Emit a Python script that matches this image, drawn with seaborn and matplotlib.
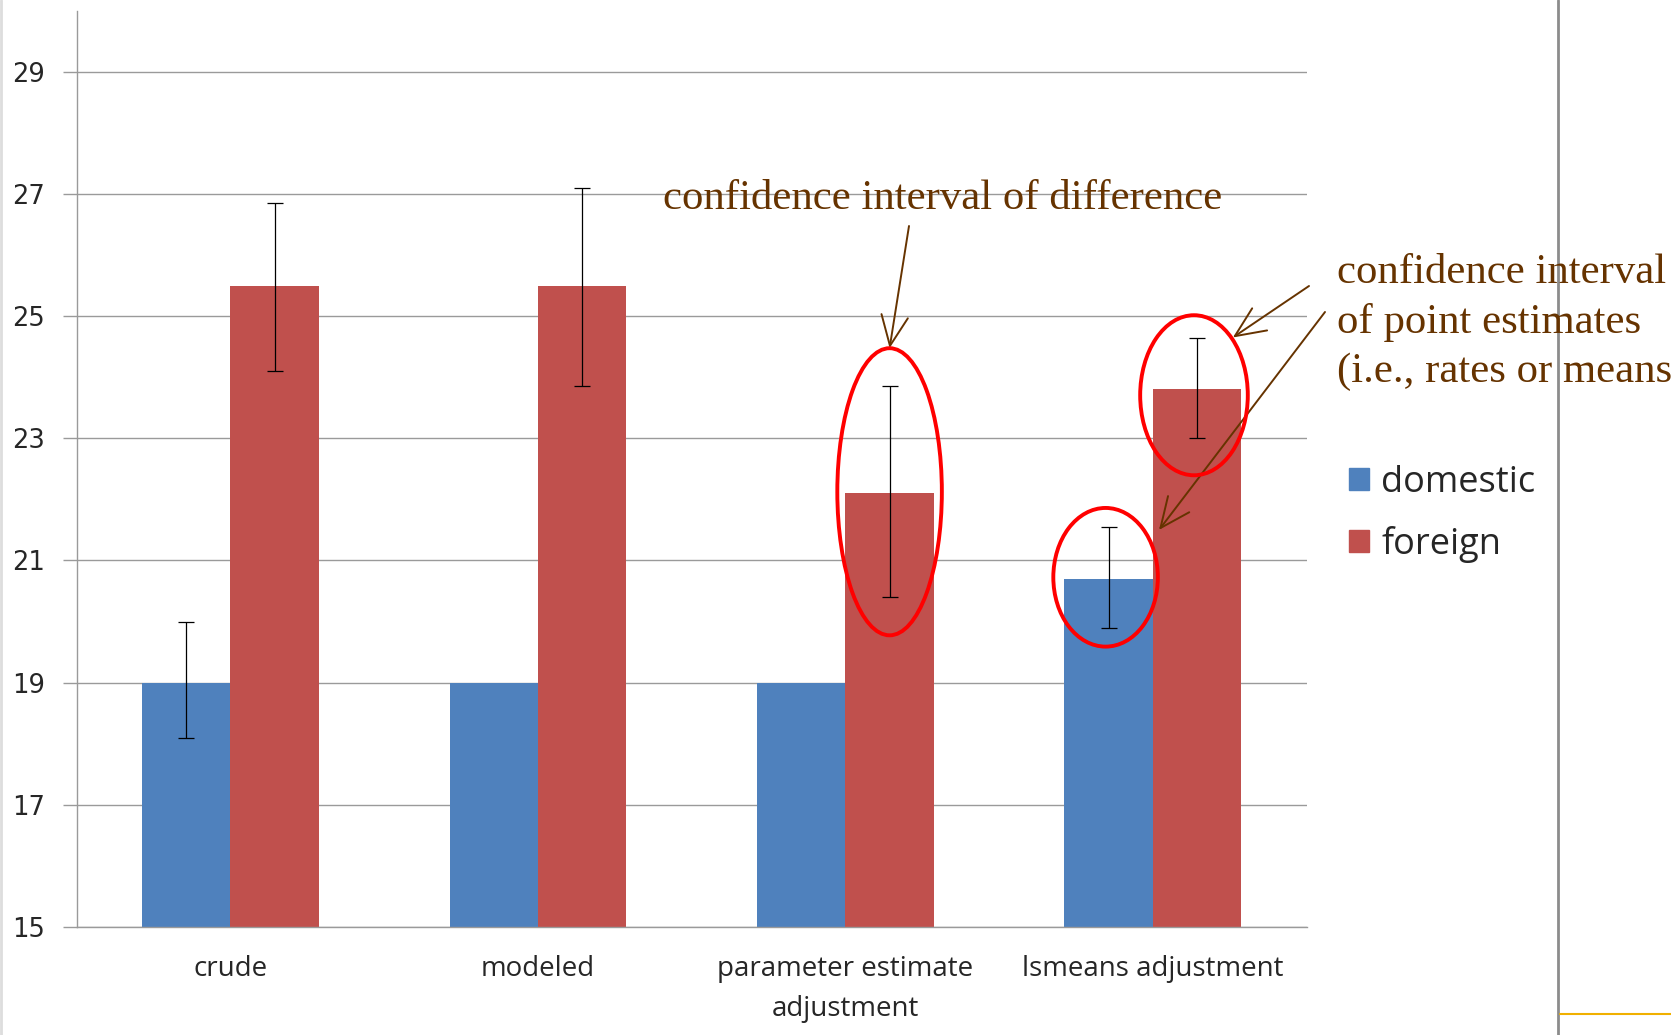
import numpy as np
import pandas as pd
import matplotlib
matplotlib.use("Agg")
import matplotlib.pyplot as plt
from matplotlib.patches import Ellipse
from matplotlib.lines import Line2D
import seaborn as sns

# ── data ────────────────────────────────────────────────
categories = ["crude", "modeled", "parameter estimate\nadjustment", "lsmeans adjustment"]
groups = ["domestic", "foreign"]
domestic = [19.0, 19.0, 19.0, 20.7]
foreign = [25.5, 25.5, 22.1, 23.8]
domestic_lo = [18.1, np.nan, np.nan, 19.9]
domestic_hi = [20.0, np.nan, np.nan, 21.55]
foreign_lo = [24.1, 23.85, 20.4, 23.0]
foreign_hi = [26.85, 27.1, 23.85, 24.65]
y_ticks = [15, 17, 19, 21, 23, 25, 27, 29]

BLUE = "#4F81BD"
RED = "#C0504D"
BROWN = "#663300"
GRID = "#9A9A9A"

df = pd.DataFrame({
    "category": categories * 2,
    "group": ["domestic"] * 4 + ["foreign"] * 4,
    "value": domestic + foreign,
    "lo": domestic_lo + foreign_lo,
    "hi": domestic_hi + foreign_hi,
})

sns.set_style("white")
plt.rcParams["font.family"] = ["Open Sans", "DejaVu Sans"]

W, H = 1671, 1035
fig = plt.figure(figsize=(W / 100, H / 100), dpi=100)
ax = fig.add_axes([76.7 / W, 1 - 927 / H, (1306.6 - 76.7) / W, (927 - 10.7) / H])

sns.barplot(data=df, x="category", y="value", hue="group", order=categories,
            hue_order=groups, palette=[BLUE, RED], width=0.575, dodge=True,
            errorbar=None, saturation=1, linewidth=0, ax=ax, zorder=2)

# error bars on top of the bars
w = 0.575 / 2
for i, g in enumerate(groups):
    sub = df[df["group"] == g].reset_index(drop=True)
    xs = np.arange(len(categories)) + (i - 0.5) * w
    mid = (sub["lo"] + sub["hi"]) / 2
    half = (sub["hi"] - sub["lo"]) / 2
    ax.errorbar(xs, mid, yerr=half, fmt="none", ecolor="black", elinewidth=0.9,
                capsize=6, capthick=0.9, zorder=3)

ax.set_ylim(15, 30)
ax.set_xlim(-0.5, len(categories) - 0.5)
ax.set_yticks(y_ticks)
ax.set_yticklabels([str(t) for t in y_ticks], family=["DejaVu Sans"], fontsize=18.5)
ax.yaxis.grid(True, color=GRID, linewidth=1)
ax.set_axisbelow(True)
ax.set_xlabel("")
ax.set_ylabel("")

ax.set_xticks(range(len(categories)))
ax.set_xticklabels(categories, fontsize=20, linespacing=1.6)
ax.set_xticks(np.arange(-0.5, len(categories)), minor=True)
ax.tick_params(axis="x", which="major", length=0, pad=20)
ax.tick_params(axis="x", which="minor", length=8, color=GRID, width=1, direction="out")
ax.tick_params(axis="y", length=10, color=GRID, width=1, pad=13)
ax.tick_params(axis="y", left=True)

for s in ["top", "right"]:
    ax.spines[s].set_visible(False)
for s in ["left", "bottom"]:
    ax.spines[s].set_color(GRID)
    ax.spines[s].set_linewidth(1)

# legend
handles = [plt.Rectangle((0, 0), 1, 1, color=BLUE), plt.Rectangle((0, 0), 1, 1, color=RED)]
ax.legend(handles, groups, loc="upper left", bbox_to_anchor=(1316 / W, 1 - 432 / H),
          bbox_transform=fig.transFigure, frameon=False, fontsize=26,
          handlelength=0.58, handleheight=0.58, handletextpad=0.32, labelspacing=0.7)

# red ellipses around the intervals
def ring(xc, lo, hi, width, pad, shift=0.0):
    yc = (lo + hi) / 2 + shift
    e = Ellipse((xc, yc), width, hi - lo + pad, fill=False, edgecolor="#FF0000",
                linewidth=2.8, zorder=4, clip_on=False)
    ax.add_patch(e)
    return yc + (hi - lo + pad) / 2

top_param = ring(2 + w / 2, foreign_lo[2], foreign_hi[2], 0.34, 1.25)
ring(3 + w / 2 - 0.01, foreign_lo[3], foreign_hi[3], 0.35, 0.97, shift=-0.12)
ring(3 - w / 2 - 0.01, domestic_lo[3], domestic_hi[3], 0.34, 0.62)

# annotation text (the right-hand note runs off the slide edge, as in the original)
serif = ["Liberation Serif", "DejaVu Serif"]
fig.text(663 / W, 1 - 199 / H, "confidence interval of difference", color=BROWN,
         family=serif, fontsize=30.8, ha="left", va="center")
fig.text(1337 / W, 1 - 322 / H, "confidence interval\nof point estimates\n(i.e., rates or means)",
         color=BROWN, family=serif, fontsize=30.8, ha="left", va="center", linespacing=1.36)

arrow = dict(arrowstyle="->,head_length=0.45,head_width=0.2", color=BROWN, lw=1.4,
             mutation_scale=48, shrinkA=0, shrinkB=0)
ax.annotate("", xy=(2 + w / 2, top_param), xytext=(909 / W, 1 - 226 / H),
            textcoords="figure fraction", arrowprops=arrow, annotation_clip=False)
ax.annotate("", xy=(3.26, 24.65), xytext=(1309 / W, 1 - 286 / H),
            textcoords="figure fraction", arrowprops=arrow, annotation_clip=False)
ax.annotate("", xy=(3.02, 21.5), xytext=(1325 / W, 1 - 312 / H),
            textcoords="figure fraction", arrowprops=arrow, annotation_clip=False)

# slide frame lines on the right
fig.add_artist(Line2D([1558 / W, 1558 / W], [0, 1], color="#8C8C8C", lw=2))
fig.add_artist(Line2D([1560 / W, 1], [1 - 1014 / H, 1 - 1014 / H], color="#F0B000", lw=1.5))
fig.add_artist(Line2D([1 / W, 1 / W], [0, 1], color="#DDDDDD", lw=2))

fig.savefig("out.png", dpi=100)
